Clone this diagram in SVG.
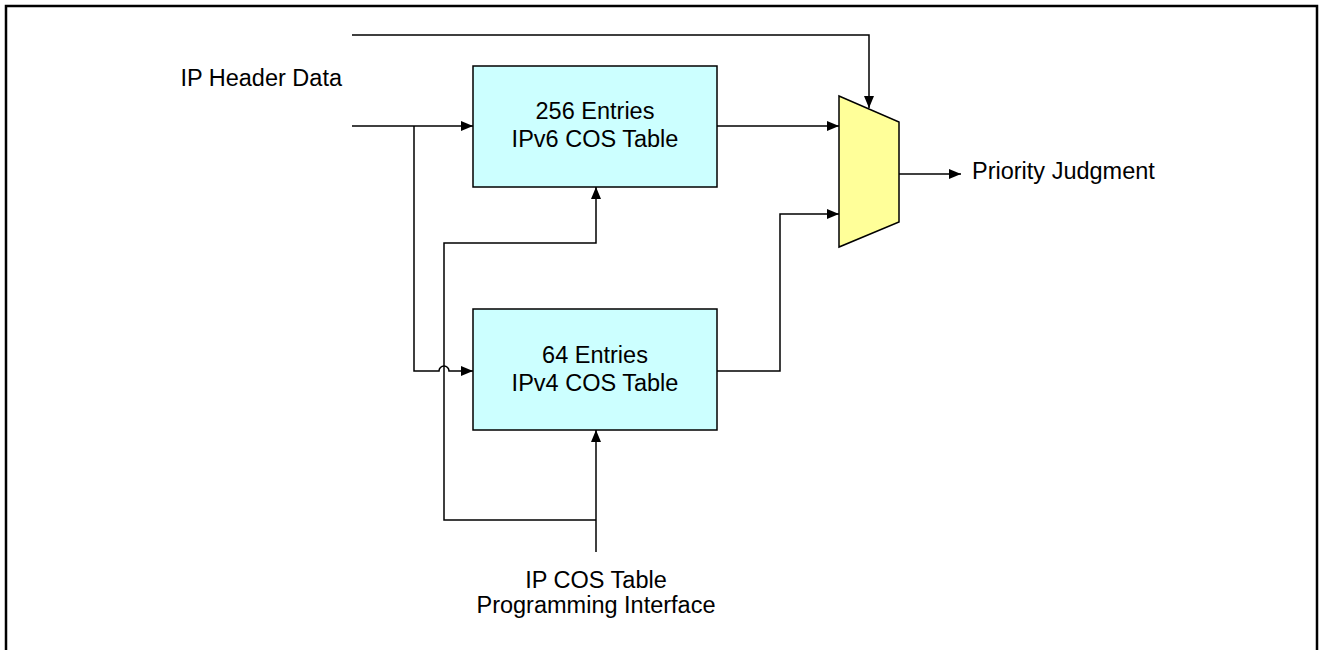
<svg xmlns="http://www.w3.org/2000/svg" width="1320" height="650" viewBox="0 0 1320 650">
<defs>
<style>
.t{font-family:"Liberation Sans",Arial,sans-serif;font-size:23.5px;fill:#000}
.c{text-anchor:middle}
.w{fill:none;stroke:#000;stroke-width:1.5}
.box{fill:#ccffff;stroke:#000;stroke-width:1.5}
</style>
<marker id="a" markerWidth="12" markerHeight="10" refX="12" refY="5" orient="auto" markerUnits="userSpaceOnUse">
<path d="M0,0 L12,5 L0,10 Z" fill="#000"/>
</marker>
</defs>
<rect width="1320" height="650" fill="#fff"/>
<path d="M6,660 V6 H1317 V660" fill="none" stroke="#000" stroke-width="2.5"/>
<g id="connectors">
<path class="w" d="M352,35 H869 V108" marker-end="url(#a)"/>
<path class="w" d="M352,126 H473" marker-end="url(#a)"/>
<path class="w" d="M414,126 V371 H439 A5,5 0 0 1 449,371 H473" marker-end="url(#a)"/>
<path class="w" d="M717,126 H839" marker-end="url(#a)"/>
<path class="w" d="M717,371 H780 V214 H839" marker-end="url(#a)"/>
<path class="w" d="M899,174 H961" marker-end="url(#a)"/>
<path class="w" d="M596,552 V430" marker-end="url(#a)"/>
<path class="w" d="M596,520 H444 V243 H596 V187" marker-end="url(#a)"/>
</g>
<g id="ipv6">
<rect class="box" x="473" y="66" width="244" height="121"/>
<text class="t c" x="595" y="119">256 Entries</text>
<text class="t c" x="595" y="147">IPv6 COS Table</text>
</g>
<g id="ipv4">
<rect class="box" x="473" y="309" width="244" height="121"/>
<text class="t c" x="595" y="363">64 Entries</text>
<text class="t c" x="595" y="391">IPv4 COS Table</text>
</g>
<g id="mux">
<polygon points="839,96 899,122 899,222 839,247" fill="#ffff99" stroke="#000" stroke-width="1.5"/>
</g>
<g id="labels">
<text class="t" x="342" y="86" text-anchor="end">IP Header Data</text>
<text class="t" x="972" y="179">Priority Judgment</text>
<text class="t c" x="596" y="588">IP COS Table</text>
<text class="t c" x="596" y="613">Programming Interface</text>
</g>
</svg>
